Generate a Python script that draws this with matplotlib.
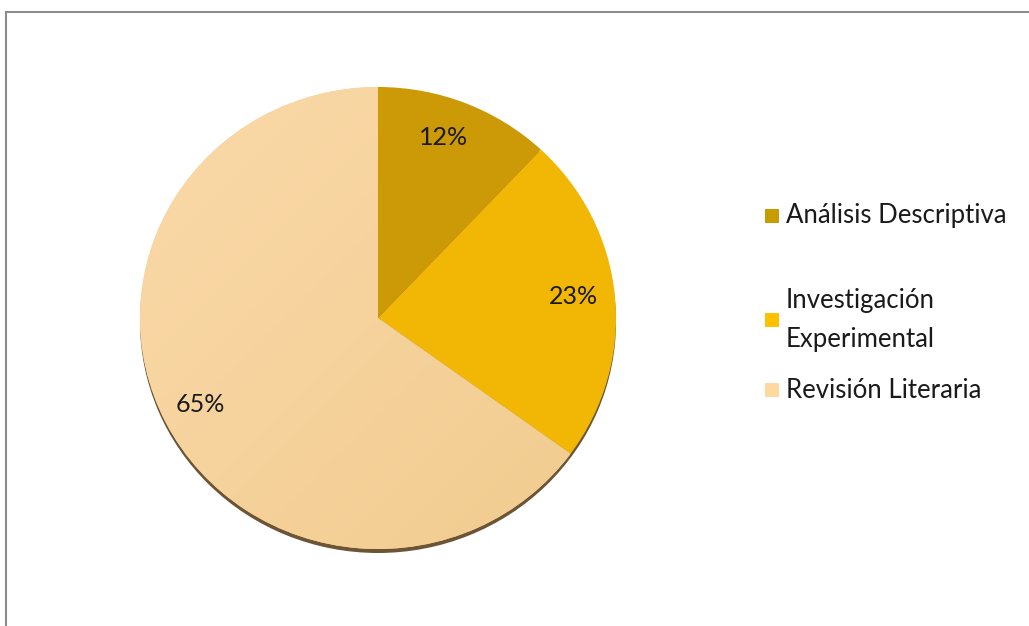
import numpy as np
import matplotlib
matplotlib.use("Agg")
import matplotlib.pyplot as plt
from matplotlib.patches import Rectangle, Wedge
from matplotlib.colors import LinearSegmentedColormap

plt.rcParams['font.family'] = ['Lato', 'DejaVu Sans']

# data
labels = ["Análisis Descriptiva", "Investigación\nExperimental", "Revisión Literaria"]
values = [12, 23, 65]
colors = ["#CC9A06", "#F2B705", "#F7D39E"]
legend_colors = ["#C89B00", "#FFC000", "#FFD9A0"]
pct_pos = [(444, 137), (573, 296), (200, 404)]
legend_y = [216, 320, 390]

W, H = 1029, 626
fig = plt.figure(figsize=(W / 100, H / 100), dpi=100)
ax = fig.add_axes([0, 0, 1, 1])

# pixel coordinates with y from the top; pie slightly squashed vertically
sy = 238 / 231.0
cx, cy = 378, 318
rad = 238

shadow = Wedge((cx, (H - cy - 4) * sy), rad, 0, 360, facecolor="#6B5535", edgecolor="none", zorder=1)
ax.add_patch(shadow)

wedges, _ = ax.pie(values, colors=colors, startangle=90, counterclock=False,
                   center=(cx, (H - cy) * sy), radius=rad,
                   wedgeprops=dict(linewidth=0, zorder=2))

# soft gradient on the large slice
gx = np.linspace(0, 1, 200)
GX, GY = np.meshgrid(gx, gx)
grad = 0.5 * GX + 0.5 * GY
cmap = LinearSegmentedColormap.from_list("g", ["#FBDAAA", "#F1CB8E"])
im = ax.imshow(grad, cmap=cmap, extent=(cx - rad, cx + rad, (H - cy - rad) * sy, (H - cy + rad) * sy),
               origin="upper", zorder=3, aspect="auto")
im.set_clip_path(wedges[2])

ax.set_aspect("auto")
ax.set_xlim(0, W)
ax.set_ylim(0, H * sy)
ax.axis("off")

for (px, py), v in zip(pct_pos, values):
    ax.text(px, (H - py) * sy, f"{v}%", ha="center", va="center", fontsize=18, color="#1a1a1a", zorder=5)

# legend drawn by hand (uneven spacing like the original)
for lab, c, ly in zip(labels, legend_colors, legend_y):
    fig.add_artist(Rectangle((765 / W, 1 - (ly + 7) / H), 14 / W, 14 / H,
                             transform=fig.transFigure, facecolor=c, edgecolor="none"))
    fig.text(786 / W, 1 - ly / H, lab, ha="left", va="center", fontsize=18.5,
             color="#1a1a1a", linespacing=1.7)

# chart border
fig.add_artist(Rectangle((5.5 / W, -0.1), 1.2, 1 - 11.5 / H + 0.1, transform=fig.transFigure,
                         facecolor="none", edgecolor="#8c8c8c", linewidth=1.5))

fig.savefig("out.png", dpi=100)
